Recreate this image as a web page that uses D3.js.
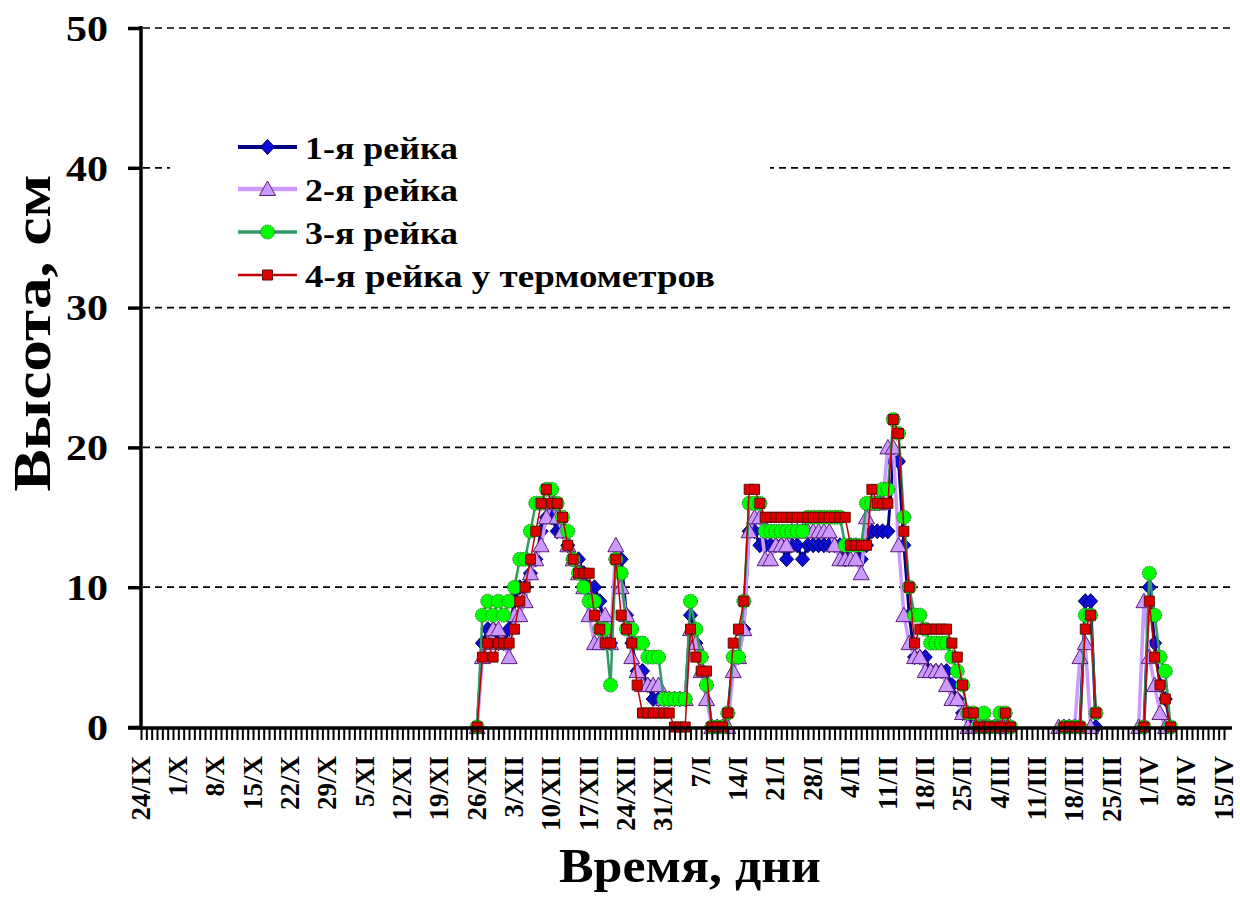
<!DOCTYPE html>
<html><head><meta charset="utf-8">
<script src="https://cdn.jsdelivr.net/npm/d3@7"></script>
<style>body{margin:0;background:#fff}</style>
</head><body>
<svg id="c" width="1240" height="900"></svg>
<script>
// ---------- DATA ----------
const tickLabels = ["24/IX","1/X","8/X","15/X","22/X","29/X","5/XI","12/XI","19/XI","26/XI",
  "3/XII","10/XII","17/XII","24/XII","31/XII","7/I","14/I","21/I","28/I","4/II","11/II",
  "18/II","25/II","4/III","11/III","18/III","25/III","1/IV","8/IV","15/IV"];
const totalDays = 203;          // 24/IX .. 15/IV
const firstDay = 63;            // first observation: 26/XI (days after 24/IX)
const yTicks = [0,10,20,30,40,50];
const seriesNames = ["1-я рейка","2-я рейка","3-я рейка","4-я рейка у термометров"];
const N = null;
// daily values from 26/XI (null = no observation)
const rake1 = [0,6,7,7,6,6,7,9,10,10,11,12,14,15,15,14,14,13,12,12,11,10,10,9,7,6,12,12,8,6,
  4,4,3,2,2,2,2,2,2,2,8,6,5,3,0,0,0,1,5,5,7,14,14,13,13,13,13,13,12,13,13,12,13,13,13,13,13,
  13,13,12,13,13,12,13,14,14,14,14,19,19,13,8,5,5,5,4,4,4,4,3,2,1,1,0,0,0,0,0,0,0,0,
  N,N,N,N,N,N,N,N,N,0,0,0,0,9,9,0,N,N,N,N,N,N,N,N,0,10,6,3,2,0];
const rake2 = [0,5,6,7,7,6,5,8,8,9,11,12,13,15,16,15,14,13,12,11,10,8,6,6,8,6,13,10,8,5,
  4,3,3,3,3,2,2,2,2,2,7,6,4,2,0,0,0,0,4,5,7,14,15,15,12,12,13,13,13,14,14,14,14,14,14,14,14,
  13,12,12,12,12,11,15,16,16,16,20,20,13,8,6,5,5,4,4,4,4,3,2,2,1,0,0,0,0,0,0,0,0,
  N,N,N,N,N,N,N,N,N,0,0,0,0,5,6,0,N,N,N,N,N,N,N,N,0,9,5,3,1,0];
const rake3 = [0,8,9,8,9,8,9,10,12,12,14,16,16,17,17,16,15,14,12,11,10,9,9,7,7,3,12,11,7,7,
  6,6,5,5,5,2,2,2,2,2,9,7,5,3,0,0,0,1,5,5,9,16,16,16,14,14,14,14,14,14,14,14,15,15,15,15,15,
  15,15,13,13,13,13,16,16,16,17,17,22,21,15,10,8,8,7,6,6,6,6,5,4,3,1,1,0,1,0,0,1,1,0,
  N,N,N,N,N,N,N,N,N,0,0,0,0,8,8,1,N,N,N,N,N,N,N,N,0,11,8,5,4,0];
const rake4 = [0,5,6,5,6,6,6,7,9,10,12,14,16,17,16,16,15,13,12,11,11,11,8,7,6,6,12,8,7,6,
  3,1,1,1,1,1,1,0,0,0,7,5,4,4,0,0,0,1,6,7,9,17,17,16,15,15,15,15,15,15,15,15,15,15,15,15,15,
  15,15,15,13,13,13,13,17,16,16,16,22,21,14,10,6,7,7,7,7,7,7,6,5,3,1,1,0,0,0,0,0,1,0,
  N,N,N,N,N,N,N,N,N,0,0,0,0,7,8,1,N,N,N,N,N,N,N,N,0,9,5,3,2,0];

// ---------- STYLES ----------
const styles = [
  {line:"#000080", lw:3,   shape:"diamond",  fill:"#0b0bd6", stroke:"#00005a"},
  {line:"#cc99ff", lw:3.5, shape:"triangle", fill:"#cc99ff", stroke:"#5b1f7a"},
  {line:"#339966", lw:2.5, shape:"circle",   fill:"#00ff00", stroke:"#2a6a2a"},
  {line:"#c00000", lw:1.5, shape:"square",   fill:"#dd0000", stroke:"#5a1000"}
];
const FONT = "'Liberation Serif','Times New Roman',serif";

const svg = d3.select("#c");
const x = d3.scaleLinear().domain([0,totalDays]).range([141,1224]);
const y = d3.scaleLinear().domain([0,50]).range([727,28]);

// gridlines
svg.append("g").selectAll("line").data(yTicks.filter(v=>v>0)).join("line")
  .attr("x1",143).attr("x2",1232).attr("y1",d=>y(d)).attr("y2",d=>y(d))
  .attr("stroke","#000").attr("stroke-width",1.7).attr("stroke-dasharray","7,5");

// legend background (covers gridline)
const legend = svg.append("g");
legend.append("rect").attr("x",170).attr("y",128).attr("width",600).attr("height",166).attr("fill","#fff");

function markerPath(shape){
  switch(shape){
    case "diamond": return "M0,-7.5L7,0L0,7.5L-7,0Z";
    case "triangle": return "M0,-8L8,6.5L-8,6.5Z";
    case "square": return "M-5,-5H5V5H-5Z";
  }
}
function drawMarker(g, st){
  if(st.shape==="circle"){
    g.append("circle").attr("r",7).attr("fill",st.fill).attr("stroke",st.stroke)
      .attr("stroke-width",1).attr("stroke-dasharray","1.5,1");
  } else {
    g.append("path").attr("d",markerPath(st.shape)).attr("fill",st.fill)
      .attr("stroke",st.stroke).attr("stroke-width",1);
  }
}

const allSeries = [rake1,rake2,rake3,rake4];
const plot = svg.append("g");
allSeries.forEach((vals,si)=>{
  const st = styles[si];
  const pts = vals.map((v,i)=>({d:firstDay+i, v}));
  const line = d3.line().defined(p=>p.v!==null).x(p=>x(p.d)).y(p=>y(p.v));
  const g = plot.append("g");
  g.append("path").attr("d",line(pts)).attr("fill","none").attr("stroke",st.line)
    .attr("stroke-width",st.lw).attr("stroke-linejoin","round");
  g.selectAll("g.m").data(pts.filter(p=>p.v!==null)).join("g").attr("class","m")
    .attr("transform",p=>`translate(${x(p.d)},${y(p.v)})`)
    .each(function(){ drawMarker(d3.select(this), st); });
});

// x axis: daily minor ticks
const xAxisMinor = d3.axisBottom(x).tickValues(d3.range(0,totalDays+1)).tickSize(11).tickFormat("");
const gx = svg.append("g").attr("transform","translate(0,729)").call(xAxisMinor);
gx.select(".domain").remove();
gx.selectAll("line").attr("stroke","#000").attr("stroke-width",2);
svg.append("line").attr("x1",128).attr("x2",1232).attr("y1",728).attr("y2",728)
  .attr("stroke","#000").attr("stroke-width",3.5);

// x labels (rotated)
const xAxisMajor = d3.axisBottom(x).tickValues(tickLabels.map((t,i)=>i*7))
  .tickSize(0).tickFormat((d,i)=>tickLabels[i]);
const gxl = svg.append("g").attr("transform","translate(0,756)").call(xAxisMajor);
gxl.select(".domain").remove();
gxl.selectAll(".tick text").attr("font-family",FONT).attr("font-weight","bold").attr("font-size",27)
  .attr("fill","#000").attr("text-anchor","end")
  .attr("transform","rotate(-90)").attr("x",0).attr("y",0).attr("dy","0.3em");

// y axis
const yAxis = d3.axisLeft(y).tickValues(yTicks).tickSize(13).tickPadding(20);
const gy = svg.append("g").attr("transform","translate(141,0)").call(yAxis);
gy.select(".domain").remove();
gy.selectAll("line").attr("stroke","#000").attr("stroke-width",3.5);
gy.selectAll("text").attr("font-family",FONT).attr("font-weight","bold").attr("font-size",35)
  .attr("fill","#000").attr("dy","0.35em").attr("x",-33)
  .attr("textLength",d=>String(d).length*21).attr("lengthAdjust","spacingAndGlyphs");
svg.append("line").attr("x1",141).attr("x2",141).attr("y1",26).attr("y2",729.5)
  .attr("stroke","#000").attr("stroke-width",3.5);

// titles
svg.append("text").attr("x",690).attr("y",882).attr("text-anchor","middle")
  .attr("font-family",FONT).attr("font-weight","bold").attr("font-size",48).attr("fill","#000")
  .attr("textLength",262).attr("lengthAdjust","spacingAndGlyphs")
  .text("Время, дни");
svg.append("text").attr("transform","translate(50,333) rotate(-90)").attr("text-anchor","middle")
  .attr("font-family",FONT).attr("font-weight","bold").attr("font-size",52).attr("fill","#000")
  .attr("textLength",317).attr("lengthAdjust","spacingAndGlyphs")
  .text("Высота, см");

// legend entries
const legendY = [147,189,232,275];
const legendTextLen = [153,153,153,410];
seriesNames.forEach((name,i)=>{
  const st = styles[i];
  const g = legend.append("g").attr("transform",`translate(0,${legendY[i]})`);
  g.append("line").attr("x1",238).attr("x2",297).attr("y1",0).attr("y2",0)
    .attr("stroke",st.line).attr("stroke-width",st.lw+1);
  const m = g.append("g").attr("transform","translate(267.5,0)");
  drawMarker(m, st);
  g.append("text").attr("x",305).attr("y",12).attr("font-family",FONT).attr("font-weight","bold")
    .attr("font-size",32).attr("fill","#000")
    .attr("textLength",legendTextLen[i]).attr("lengthAdjust","spacingAndGlyphs").text(name);
});
</script>
</body></html>
